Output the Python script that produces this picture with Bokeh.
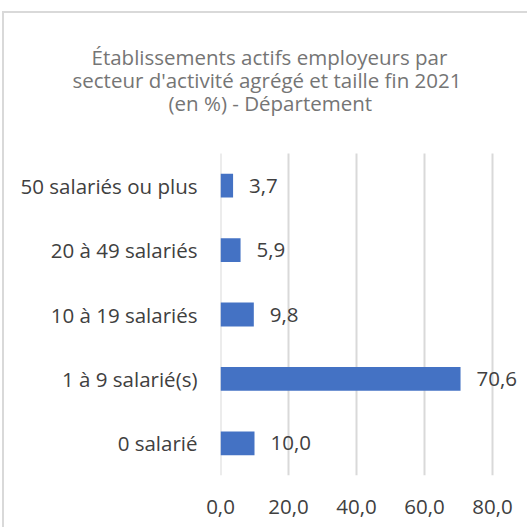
from bokeh.plotting import figure
from bokeh.models import ColumnDataSource, Range1d, FixedTicker, Title
from bokeh.core.properties import value
from bokeh.embed import file_html
from bokeh.resources import INLINE

categories = ["0 salarié", "1 à 9 salarié(s)", "10 à 19 salariés",
              "20 à 49 salariés", "50 salariés ou plus"]
values = [10.0, 70.6, 9.8, 5.9, 3.7]
value_labels = ["10,0", "70,6", "9,8", "5,9", "3,7"]
x_ticks = [0, 20, 40, 60, 80]
x_tick_labels = ["0,0", "20,0", "40,0", "60,0", "80,0"]
title_lines = ["Établissements actifs employeurs par",
               "secteur d'activité agrégé et taille fin 2021",
               "(en %) - Département"]
title_left = [91, 72, 168]      # page x of each title line's left edge

FONT = "Open Sans"
BORDER = "2px solid #d9d9d9"

# page geometry (px)
OX, OY = 4, 13                 # content origin on the page (inside border)
W, H = 529 - OX, 529 - OY
F_LEFT, F_TOP, F_BOTTOM = 220, 113, 475
PX_X = 3.4                     # px per data unit along x
PX_Y = 64.4                    # px per category

x_end = (529 - F_LEFT) / PX_X
y_top = -0.5 + (F_BOTTOM - F_TOP) / PX_Y
p = figure(width=W, height=H, x_range=Range1d(0, x_end),
           y_range=Range1d(-0.5, y_top),
           output_backend="svg", toolbar_location=None,
           min_border_left=F_LEFT - OX, min_border_right=0,
           min_border_top=F_TOP - OY, min_border_bottom=529 - F_BOTTOM)
p.styles = {"margin-left": "2px", "margin-top": "11px",
            "border-left": BORDER, "border-top": BORDER}
p.outline_line_color = None
p.xgrid.grid_line_color = None
p.ygrid.grid_line_color = None

# title: nearest line to the frame is added first
for line, left in reversed(list(zip(title_lines, title_left))):
    p.add_layout(Title(text=line, align="left", offset=left - F_LEFT,
                       standoff=-7, text_font=FONT, text_font_size="20.5px",
                       text_font_style="normal", text_color="#757575"),
                 "above")

ypos = list(range(len(categories)))

# vertical gridlines at the tick values, spanning the category band
p.segment(x0=x_ticks, x1=x_ticks, y0=[-0.5] * len(x_ticks),
          y1=[len(categories) - 0.5] * len(x_ticks),
          line_color="#d9d9d9", line_width=2)

src = ColumnDataSource(dict(y=ypos, val=values, lab=value_labels))
p.hbar(y="y", right="val", left=0, height=0.37, source=src,
       fill_color="#4472C4", line_color=None)
p.text(x="val", y="y", text="lab", source=src, x_offset=16,
       text_align="left", text_baseline="middle", text_font_size="20.5px",
       text_color="#404040", text_font=value(FONT))

p.xaxis.ticker = FixedTicker(ticks=x_ticks)
p.xaxis.major_label_overrides = {t_: l for t_, l in zip(x_ticks, x_tick_labels)}
p.xaxis.axis_line_color = None
p.xaxis.major_tick_line_color = None
p.xaxis.minor_tick_line_color = None
p.xaxis.major_tick_out = 0
p.xaxis.major_label_text_font = FONT
p.xaxis.major_label_text_font_size = "20.5px"
p.xaxis.major_label_text_color = "#404040"
p.xaxis.major_label_standoff = 24

p.yaxis.ticker = FixedTicker(ticks=ypos)
p.yaxis.major_label_overrides = {i: c for i, c in zip(ypos, categories)}
p.yaxis.axis_line_color = None
p.yaxis.major_tick_line_color = None
p.yaxis.minor_tick_line_color = None
p.yaxis.major_tick_out = 0
p.yaxis.major_label_text_font = FONT
p.yaxis.major_label_text_font_size = "20.5px"
p.yaxis.major_label_text_color = "#404040"
p.yaxis.major_label_standoff = 23

open("out.html", "w").write(file_html(p, INLINE))
